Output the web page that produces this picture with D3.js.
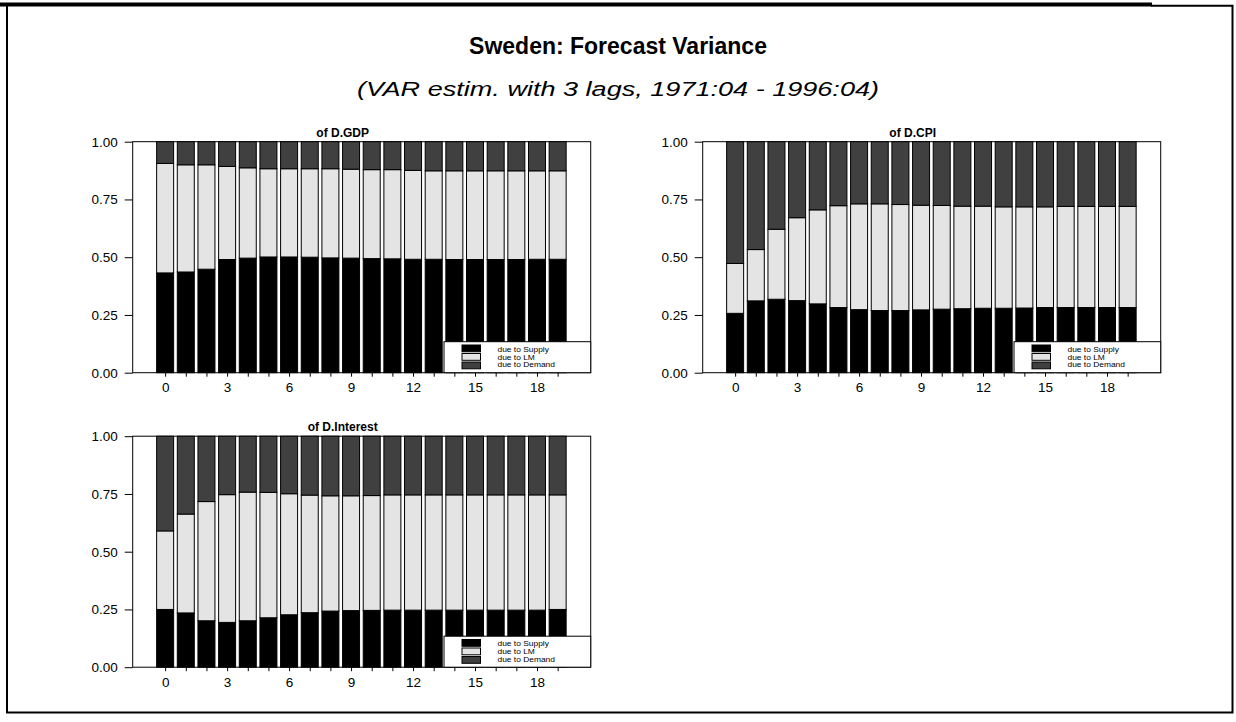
<!DOCTYPE html>
<html><head><meta charset="utf-8">
<script src="https://cdn.jsdelivr.net/npm/d3@7/dist/d3.min.js"></script>
<style>body{margin:0;background:#fff}svg{display:block}text{font-family:"Liberation Sans",Arial,sans-serif}</style>
</head><body><svg id="c" width="1236" height="722"></svg>
<script>
const steps = d3.range(0, 20);
const seriesNames = ["due to Supply", "due to LM", "due to Demand"];
const seriesColors = ["#000000", "#e4e4e4", "#404040"];
const yTicks = [0, 0.25, 0.5, 0.75, 1.0];
const xTickLabels = [0, 3, 6, 9, 12, 15, 18];
const titleText = "Sweden: Forecast Variance";
const subtitleText = "(VAR estim. with 3 lags, 1971:04 - 1996:04)";
const panelTitles = ["of D.GDP", "of D.CPI", "of D.Interest"];

const gdpSupply = [0.432,0.436,0.448,0.490,0.496,0.501,0.501,0.500,0.497,0.496,0.494,0.493,0.491,0.491,0.490,0.490,0.490,0.490,0.491,0.491];
const gdpLM     = [0.474,0.464,0.452,0.403,0.391,0.382,0.382,0.383,0.386,0.385,0.385,0.386,0.385,0.383,0.384,0.384,0.384,0.384,0.383,0.383];
const gdpDemand = [0.094,0.100,0.100,0.107,0.113,0.117,0.117,0.117,0.117,0.119,0.121,0.121,0.124,0.126,0.126,0.126,0.126,0.126,0.126,0.126];

const cpiSupply = [0.257,0.311,0.318,0.312,0.298,0.282,0.273,0.269,0.269,0.272,0.275,0.277,0.279,0.279,0.280,0.282,0.282,0.282,0.282,0.282];
const cpiLM     = [0.216,0.222,0.303,0.359,0.407,0.441,0.458,0.462,0.459,0.453,0.449,0.444,0.442,0.439,0.438,0.436,0.438,0.438,0.438,0.438];
const cpiDemand = [0.527,0.467,0.379,0.329,0.295,0.277,0.269,0.269,0.272,0.275,0.276,0.279,0.279,0.282,0.282,0.282,0.280,0.280,0.280,0.280];

const intSupply = [0.250,0.235,0.201,0.194,0.201,0.214,0.227,0.236,0.243,0.245,0.246,0.247,0.247,0.247,0.247,0.247,0.247,0.247,0.247,0.250];
const intLM     = [0.340,0.428,0.516,0.553,0.557,0.543,0.524,0.509,0.499,0.497,0.497,0.499,0.499,0.499,0.499,0.499,0.499,0.499,0.499,0.496];
const intDemand = [0.410,0.337,0.283,0.253,0.242,0.243,0.249,0.255,0.258,0.258,0.257,0.254,0.254,0.254,0.254,0.254,0.254,0.254,0.254,0.254];

const panels = [
  {title: panelTitles[0], series: [gdpSupply, gdpLM, gdpDemand], left: 132.7, top: 141.7},
  {title: panelTitles[1], series: [cpiSupply, cpiLM, cpiDemand], left: 702.7, top: 141.7},
  {title: panelTitles[2], series: [intSupply, intLM, intDemand], left: 132.7, top: 436.2}
];
const PW = 458, PH = 231;

const svg = d3.select("#c");
// outer frame
svg.append("rect").attr("x", 0).attr("y", 2.5).attr("width", 1152).attr("height", 4).attr("fill", "#000");
svg.append("path").attr("d", "M1151,5.8H1232.5V712.5H7V5").attr("fill", "none").attr("stroke", "#000").attr("stroke-width", 2);

svg.append("text").attr("x", 618).attr("y", 54).attr("text-anchor", "middle")
  .attr("font-size", 23).attr("font-weight", "bold").text(titleText);
svg.append("text").attr("x", 618).attr("y", 96).attr("text-anchor", "middle")
  .attr("font-size", 20).attr("font-style", "italic")
  .attr("textLength", 522).attr("lengthAdjust", "spacingAndGlyphs").text(subtitleText);

panels.forEach(p => {
  const g = svg.append("g").attr("transform", `translate(${p.left},${p.top})`);
  const x = d3.scaleLinear().domain([-1.57, 20.6]).range([0, PW]);
  const y = d3.scaleLinear().domain([0, 1]).range([PH, 0]);
  const bw = 17;
  const stack = d3.stack().keys([0, 1, 2])(steps.map(i => [p.series[0][i], p.series[1][i], p.series[2][i]]));

  // frame
  g.append("rect").attr("x", 0).attr("y", 0).attr("width", PW).attr("height", PH)
    .attr("fill", "#fff").attr("stroke", "#000").attr("stroke-width", 1);

  stack.forEach((layer, k) => {
    g.append("g").selectAll("rect").data(layer).join("rect")
      .attr("x", (d, i) => x(i) - bw / 2)
      .attr("width", bw)
      .attr("y", d => y(d[1]))
      .attr("height", d => y(d[0]) - y(d[1]))
      .attr("fill", seriesColors[k])
      .attr("stroke", "#000").attr("stroke-width", 1);
  });

  // y axis
  const ya = g.append("g").call(d3.axisLeft(y).tickValues(yTicks).tickFormat(d3.format(".2f")).tickSize(8).tickPadding(7));
  ya.select(".domain").remove();
  ya.selectAll("text").attr("font-size", 13.5).attr("font-family", "Liberation Sans, Arial, sans-serif").attr("fill", "#000");
  ya.selectAll("line").attr("stroke", "#000");

  // x axis
  const xa = g.append("g").attr("transform", `translate(0,${PH})`)
    .call(d3.axisBottom(x).tickValues(steps).tickSize(4).tickPadding(6).tickFormat(d => xTickLabels.includes(d) ? d : ""));
  xa.select(".domain").remove();
  xa.selectAll("text").attr("font-size", 13.5).attr("font-family", "Liberation Sans, Arial, sans-serif").attr("fill", "#000");
  xa.selectAll("line").attr("stroke", "#000");

  // legend
  const lg = g.append("g").attr("transform", `translate(311.3,${PH - 31})`);
  lg.append("rect").attr("width", PW - 311.3).attr("height", 31).attr("fill", "#fff").attr("stroke", "#000");
  seriesNames.forEach((n, k) => {
    lg.append("rect").attr("x", 18).attr("y", 3.3 + k * 8.5).attr("width", 18.5).attr("height", 6.8)
      .attr("fill", seriesColors[k]).attr("stroke", "#000");
    const t = lg.append("text").attr("x", 53.5).attr("y", 7.6 + k * 7.8).attr("dy", "0.35em")
      .attr("font-size", 7).attr("fill", "#000").text(n);
    const w = t.node().getComputedTextLength();
    t.attr("textLength", w * 1.2).attr("lengthAdjust", "spacingAndGlyphs");
  });

  // panel title
  g.append("text").attr("x", PW / 2 - 19).attr("y", -5).attr("text-anchor", "middle")
    .attr("font-size", 12).attr("font-weight", "bold").text(p.title);
});
</script></body></html>
